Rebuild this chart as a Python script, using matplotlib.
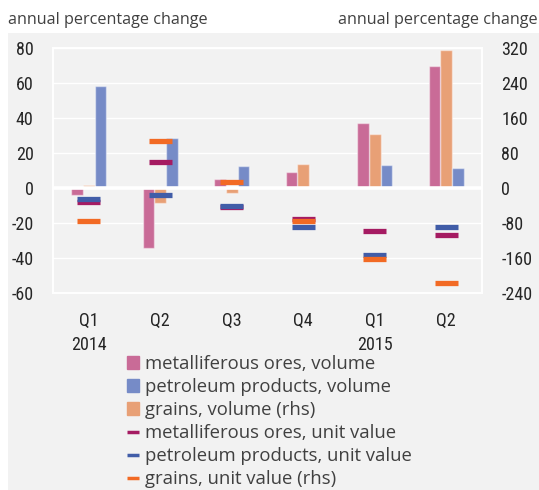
import matplotlib
matplotlib.use("Agg")
import matplotlib.pyplot as plt
from matplotlib.patches import Patch, Rectangle
from matplotlib.lines import Line2D
from matplotlib import font_manager as fm
import numpy as np

# ---- data ----
quarters = ["Q1", "Q2", "Q3", "Q4", "Q1", "Q2"]
years = ["2014", "", "", "", "2015", ""]
metal_vol = [-4, -34.5, 5, 9, 37, 69.5]          # lhs
petrol_vol = [58, 28.5, 12.5, 0, 13.2, 11.3]      # lhs
grains_vol = [6, -36, -12, 53.5, 122, 314]        # rhs
metal_uv = [-8.3, 14.4, -11, -18, -24.5, -27.3]   # lhs
petrol_uv = [-6.7, -3.9, -10.2, -22.7, -38.2, -22.7]  # lhs
grains_uv = [-77, 106, 12, -77, -162, -217]       # rhs

labels = ["metalliferous ores, volume", "petroleum products, volume",
          "grains, volume (rhs)", "metalliferous ores, unit value",
          "petroleum products, unit value", "grains, unit value (rhs)"]

c_metal_bar = "#C96B97"
c_petrol_bar = "#768BC7"
c_grain_bar = "#E8A076"
c_metal_dash = "#A51B62"
c_petrol_dash = "#415DA8"
c_grain_dash = "#F26A24"
bg = "#F2F2F2"
tick_col = "#262626"
txt_col = "#404040"

installed = {f.name for f in fm.fontManager.ttflist}
narrow_candidates = ["Liberation Sans Narrow", "DejaVu Sans Condensed",
                     "Roboto Condensed", "Open Sans Condensed", "Roboto"]
narrow = [n for n in narrow_candidates if n in installed] + ["DejaVu Sans"]
narrow_name = narrow[0]
tick_size = 13 if narrow_name in ("Liberation Sans Narrow", "Roboto Condensed",
                                  "Open Sans Condensed") else 12.6
regular = ["Open Sans", "DejaVu Sans"]

fig = plt.figure(figsize=(5.39, 4.90), dpi=100)
fig.patch.set_facecolor("white")
fig.patches.append(Rectangle((8 / 539, 0), 1, (490 - 33) / 490,
                             transform=fig.transFigure, facecolor=bg,
                             edgecolor="none", zorder=-10))

ax2 = fig.add_axes([53 / 539, 1 - 292.7 / 490, (482 - 53) / 539, (292.7 - 47.7) / 490])
ax = ax2.twinx()
ax.set_position(ax2.get_position())
ax.set_zorder(ax2.get_zorder() + 1)
ax.patch.set_visible(False)
ax2.set_facecolor(bg)

x = np.arange(len(quarters))
w = 0.165

ax.yaxis.tick_left()
ax2.yaxis.tick_right()

ax.set_ylim(-60, 80)
ax2.set_ylim(-240, 320)
ax.set_xlim(-0.5, 5.5)
ax2.set_xlim(-0.5, 5.5)
ax.set_yticks(np.arange(-60, 81, 20))
ax2.set_yticks(np.arange(-240, 321, 80))

ax2.grid(axis="y", color="white", linewidth=1.0, zorder=0)
ax2.set_axisbelow(True)

edge = (1, 1, 1, 0.45)
ax2.bar(x, grains_vol, w, color=c_grain_bar, edgecolor=edge, linewidth=1, zorder=2)
ax.bar(x - w, metal_vol, w, color=c_metal_bar, edgecolor=edge, linewidth=1, zorder=2)
ax.bar(x + w, petrol_vol, w, color=c_petrol_bar, edgecolor=edge, linewidth=1, zorder=2)

ax.axhline(0, color="white", linewidth=2.6, zorder=3)

hw = 0.16
ax.hlines(metal_uv, x - hw, x + hw, color=c_metal_dash, linewidth=3.8,
          capstyle="butt", zorder=4)
ax.hlines(petrol_uv, x - hw, x + hw, color=c_petrol_dash, linewidth=3.8,
          capstyle="butt", zorder=5)
ax.hlines(grains_uv, x - hw, x + hw, color=c_grain_dash, linewidth=3.8,
          capstyle="butt", zorder=6, transform=ax2.transData)

for a in (ax, ax2):
    for s in a.spines.values():
        s.set_color("white")
        s.set_linewidth(1.3)
    a.tick_params(length=0)

ax2.set_xticks(x)
ax2.set_xticklabels([q + ("\n" + y if y else "") for q, y in zip(quarters, years)],
                    fontfamily=narrow, fontsize=tick_size, color=tick_col, linespacing=1.4,
                    va="top")
ax2.tick_params(axis="x", pad=14)
ax.tick_params(axis="x", labelbottom=False)
ax.tick_params(axis="y", pad=14)
ax2.tick_params(axis="y", pad=14)
ax.set_yticklabels([str(v) for v in range(-60, 81, 20)])
ax2.set_yticklabels([str(v) for v in range(-240, 321, 80)])
for t in ax.get_yticklabels() + ax2.get_yticklabels():
    t.set_fontfamily(narrow); t.set_fontsize(tick_size); t.set_color(tick_col)

fig.text(8 / 539, 1 - 20 / 490, "annual percentage change", fontfamily=regular,
         fontsize=11.6, color=txt_col, ha="left", va="center")
fig.text(538 / 539, 1 - 20 / 490, "annual percentage change", fontfamily=regular,
         fontsize=11.6, color=txt_col, ha="right", va="center")

handles = [Patch(color=c_metal_bar), Patch(color=c_petrol_bar), Patch(color=c_grain_bar),
           Line2D([], [], color=c_metal_dash, lw=2.5, solid_capstyle="butt"),
           Line2D([], [], color=c_petrol_dash, lw=2.5, solid_capstyle="butt"),
           Line2D([], [], color=c_grain_dash, lw=2.5, solid_capstyle="butt")]
leg = fig.legend(handles, labels, loc="upper left", bbox_to_anchor=(127 / 539, 1 - 355 / 490),
                 frameon=False, borderpad=0, borderaxespad=0,
                 prop={"family": regular, "size": 13.3},
                 handlelength=0.65, handleheight=0.65, handletextpad=0.3,
                 labelspacing=0.27)
for t in leg.get_texts():
    t.set_color(txt_col)

fig.savefig("out.png", dpi=100, facecolor=fig.get_facecolor())
